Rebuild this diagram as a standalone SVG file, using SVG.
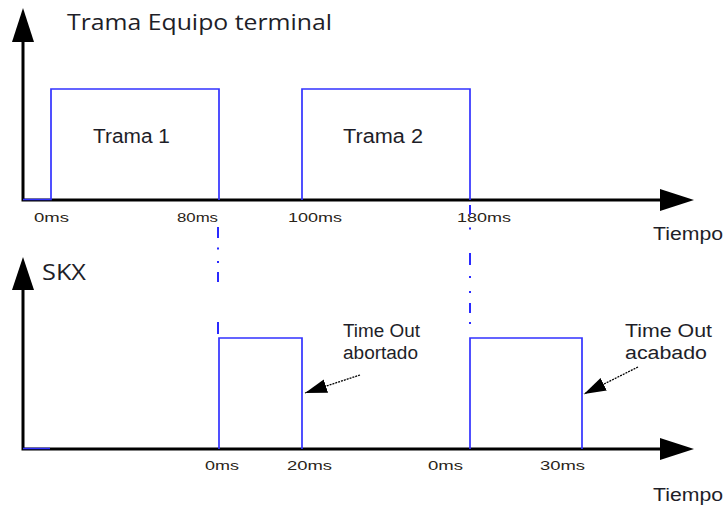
<svg xmlns="http://www.w3.org/2000/svg" width="725" height="506" viewBox="0 0 725 506">
<style>
.axis{stroke:#000;stroke-width:3;fill:none}
.head{fill:#000}
.sig{stroke:#3232ff;stroke-width:1.7;fill:none}
.dash{stroke:#2a2aff;stroke-width:2;fill:none}
.ptr{stroke:#000;stroke-width:1.3;stroke-dasharray:2 1;fill:none}
.lbl{font-family:"Liberation Sans",Arial,sans-serif;fill:#1e1e28}
.tick{font-family:"Liberation Sans",Arial,sans-serif;font-size:13.5px;fill:#2a2418}
.ttl{font-family:"Open Sans","Noto Sans",sans-serif;fill:#1e1e28}
</style>
<defs>
<marker id="ah" markerUnits="userSpaceOnUse" markerWidth="23" markerHeight="15" refX="22" refY="7" orient="auto">
<path d="M0,0 L22,7 L0,14 Z" fill="#000"/>
</marker>
</defs>
<rect width="725" height="506" fill="#fff"/>

<g id="axes-top">
<path class="axis" d="M23,40 V200 H662"/>
<polygon class="head" points="23,8 12,42 34,42"/>
<polygon class="head" points="694,200 660,189 660,211"/>
</g>
<g id="axes-bottom">
<path class="axis" d="M23,288 V449 H662"/>
<polygon class="head" points="23,257 12,290 34,290"/>
<polygon class="head" points="694,449 660,438 660,460"/>
</g>

<g id="title">
<text class="ttl" x="67" y="30" font-size="22" textLength="265" lengthAdjust="spacingAndGlyphs">Trama Equipo terminal</text>
</g>
<g id="skx">
<text class="ttl" x="42" y="280" font-size="21" textLength="44" lengthAdjust="spacingAndGlyphs">SKX</text>
</g>

<g id="trama1">
<path class="sig" d="M23,199.5 H51 V89 H219 V200"/>
<text class="lbl" x="93" y="143" font-size="20" textLength="77" lengthAdjust="spacingAndGlyphs">Trama 1</text>
</g>
<g id="trama2">
<path class="sig" d="M302,200 V89 H470 V200"/>
<text class="lbl" x="343" y="143" font-size="20" textLength="80" lengthAdjust="spacingAndGlyphs">Trama 2</text>
</g>

<g id="timeout1">
<path class="sig" d="M23,448.5 H50 M219,449 V338 H302 V449"/>
</g>
<g id="timeout2">
<path class="sig" d="M470,449 V338 H582 V449"/>
</g>

<g id="ticks">
<text class="tick" x="34" y="222" textLength="35" lengthAdjust="spacingAndGlyphs">0ms</text>
<text class="tick" x="177" y="222" textLength="41" lengthAdjust="spacingAndGlyphs">80ms</text>
<text class="tick" x="288" y="222" textLength="54" lengthAdjust="spacingAndGlyphs">100ms</text>
<text class="tick" x="457" y="222" textLength="54" lengthAdjust="spacingAndGlyphs">180ms</text>
<text class="tick" x="205" y="470" textLength="34" lengthAdjust="spacingAndGlyphs">0ms</text>
<text class="tick" x="287" y="470" textLength="45" lengthAdjust="spacingAndGlyphs">20ms</text>
<text class="tick" x="428" y="470" textLength="35" lengthAdjust="spacingAndGlyphs">0ms</text>
<text class="tick" x="540" y="470" textLength="45" lengthAdjust="spacingAndGlyphs">30ms</text>
<text class="lbl" x="653" y="240" font-size="18" textLength="70" lengthAdjust="spacingAndGlyphs">Tiempo</text>
<text class="lbl" x="653" y="501" font-size="18" textLength="70" lengthAdjust="spacingAndGlyphs">Tiempo</text>
</g>

<g id="notes">
<text class="lbl" x="343" y="337" font-size="18" textLength="77" lengthAdjust="spacingAndGlyphs">Time Out</text>
<text class="lbl" x="343" y="359" font-size="18" textLength="75" lengthAdjust="spacingAndGlyphs">abortado</text>
<text class="lbl" x="625" y="337" font-size="18" textLength="87" lengthAdjust="spacingAndGlyphs">Time Out</text>
<text class="lbl" x="625" y="359" font-size="18" textLength="82" lengthAdjust="spacingAndGlyphs">acabado</text>
</g>

<g id="connectors">
<path class="dash" d="M218,227 V238 M218,247.5 V249.5 M218,261 V263 M218,272 V282 M218,322 V334"/>
<path class="dash" d="M470,205 V215 M470,227.5 V229.5 M470,253 V265 M470,276 V278 M470,291 V293 M470,303 V313 M470,322 V324"/>
<path class="ptr" d="M360,375 L305,393" marker-end="url(#ah)"/>
<path class="ptr" d="M638,367 L584,394" marker-end="url(#ah)"/>
</g>
</svg>
